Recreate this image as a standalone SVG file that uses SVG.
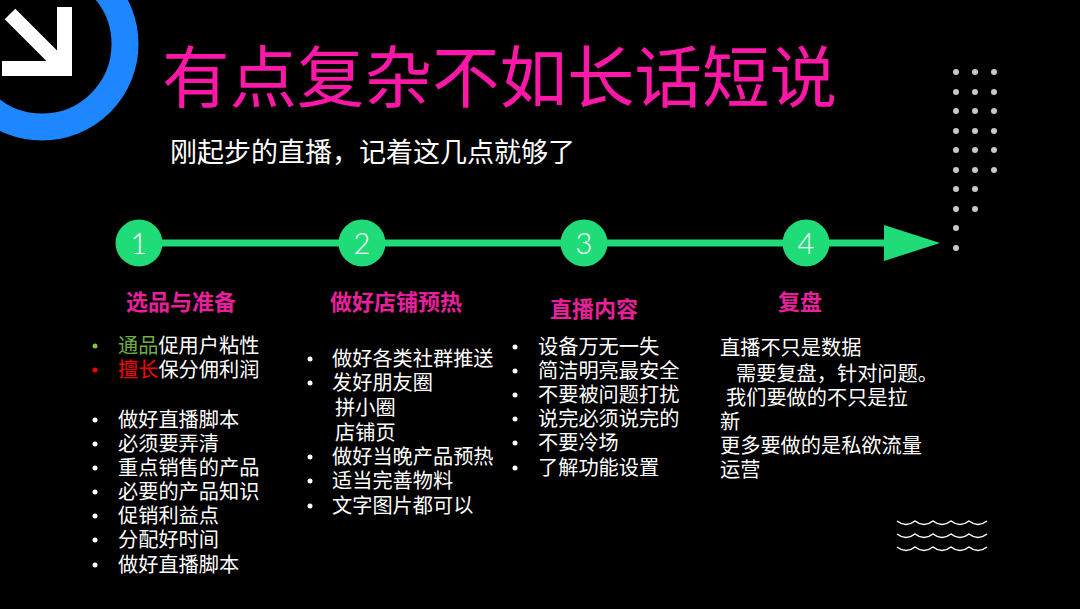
<svg xmlns="http://www.w3.org/2000/svg" width="1080" height="609" viewBox="0 0 1080 609">
<defs>
<style>
text{font-family:"Liberation Sans","Noto Sans CJK SC",sans-serif;}
.t{fill:#ffffff;font-size:20.2px;}
.h{fill:#e8209c;font-size:22px;font-weight:bold;text-anchor:middle;}
.num{fill:#ffffff;font-family:Lato,"Liberation Sans",sans-serif;font-weight:300;font-size:29px;text-anchor:middle;}
.node circle{fill:#1fdb78;}
.dot{fill:#c8c8c8;}
.wave{fill:none;stroke:#ffffff;stroke-width:1.5;}
</style>
</defs>
<rect width="1080" height="609" fill="#000000"/>
<g id="deco-ring">
<circle cx="42" cy="44" r="83" fill="none" stroke="#1e86ff" stroke-width="27"/>
<path d="M10 14 L62 66" stroke="#ffffff" stroke-width="15" fill="none"/>
<polygon points="57,7 72,7 72,76 2,76 2,61 57,61" fill="#ffffff"/>
</g>
<g id="title">
<text x="162" y="102" style="font-size:67.5px;fill:#ff17a8;">有点复杂不如长话短说</text>
<text x="170" y="162" style="font-size:27px;fill:#ffffff;">刚起步的直播，记着这几点就够了</text>
</g>
<g id="dots">
<circle class="dot" cx="956" cy="72" r="3"/><circle class="dot" cx="975" cy="72" r="3"/><circle class="dot" cx="994" cy="72" r="3"/>
<circle class="dot" cx="956" cy="92" r="3"/><circle class="dot" cx="975" cy="92" r="3"/><circle class="dot" cx="994" cy="92" r="3"/>
<circle class="dot" cx="956" cy="111" r="3"/><circle class="dot" cx="975" cy="111" r="3"/><circle class="dot" cx="994" cy="111" r="3"/>
<circle class="dot" cx="956" cy="131" r="3"/><circle class="dot" cx="975" cy="131" r="3"/><circle class="dot" cx="994" cy="131" r="3"/>
<circle class="dot" cx="956" cy="150" r="3"/><circle class="dot" cx="975" cy="150" r="3"/><circle class="dot" cx="994" cy="150" r="3"/>
<circle class="dot" cx="956" cy="170" r="3"/><circle class="dot" cx="975" cy="170" r="3"/><circle class="dot" cx="994" cy="170" r="3"/>
<circle class="dot" cx="956" cy="189" r="3"/><circle class="dot" cx="975" cy="189" r="3"/>
<circle class="dot" cx="956" cy="209" r="3"/><circle class="dot" cx="975" cy="209" r="3"/>
<circle class="dot" cx="956" cy="228" r="3"/>
<circle class="dot" cx="956" cy="248" r="3"/>
</g>
<g id="connectors">
<line x1="139" y1="243" x2="890" y2="243" stroke="#1fdb78" stroke-width="7"/>
<polygon points="884,225 940,243 884,261" fill="#1fdb78"/>
</g>
<g id="node1" class="node"><circle cx="139" cy="243" r="23.5"/><text class="num" x="139" y="254">1</text></g>
<g id="node2" class="node"><circle cx="362" cy="243" r="23.5"/><text class="num" x="362" y="254">2</text></g>
<g id="node3" class="node"><circle cx="584" cy="243" r="23.5"/><text class="num" x="584" y="254">3</text></g>
<g id="node4" class="node"><circle cx="806" cy="243" r="23.5"/><text class="num" x="806" y="254">4</text></g>
<g id="col1">
<text class="h" x="181" y="310">选品与准备</text>
<circle cx="95" cy="346" r="2.5" fill="#7cc243"/>
<text class="t" x="118" y="353"><tspan fill="#70ad47">通品</tspan>促用户粘性</text>
<circle cx="95" cy="370" r="2.5" fill="#ff0000"/>
<text class="t" x="118" y="377"><tspan fill="#ff0000">擅长</tspan>保分佣利润</text>
<g fill="#ffffff">
<circle cx="95" cy="420" r="2.5"/><circle cx="95" cy="444" r="2.5"/><circle cx="95" cy="468" r="2.5"/><circle cx="95" cy="492" r="2.5"/><circle cx="95" cy="516" r="2.5"/><circle cx="95" cy="540" r="2.5"/><circle cx="95" cy="565" r="2.5"/>
</g>
<text class="t" x="118" y="427">做好直播脚本</text>
<text class="t" x="118" y="451">必须要弄清</text>
<text class="t" x="118" y="475">重点销售的产品</text>
<text class="t" x="118" y="499">必要的产品知识</text>
<text class="t" x="118" y="523">促销利益点</text>
<text class="t" x="118" y="547">分配好时间</text>
<text class="t" x="118" y="572">做好直播脚本</text>
</g>
<g id="col2">
<text class="h" x="396" y="310">做好店铺预热</text>
<g fill="#ffffff">
<circle cx="310" cy="359" r="2.5"/><circle cx="310" cy="383" r="2.5"/><circle cx="310" cy="457" r="2.5"/><circle cx="310" cy="481" r="2.5"/><circle cx="310" cy="506" r="2.5"/>
</g>
<text class="t" x="332" y="366">做好各类社群推送</text>
<text class="t" x="332" y="390">发好朋友圈</text>
<text class="t" x="335" y="415">拼小圈</text>
<text class="t" x="335" y="440">店铺页</text>
<text class="t" x="332" y="464">做好当晚产品预热</text>
<text class="t" x="332" y="488">适当完善物料</text>
<text class="t" x="332" y="513">文字图片都可以</text>
</g>
<g id="col3">
<text class="h" x="594" y="317">直播内容</text>
<g fill="#ffffff">
<circle cx="515" cy="347" r="2.5"/><circle cx="515" cy="371" r="2.5"/><circle cx="515" cy="395" r="2.5"/><circle cx="515" cy="419" r="2.5"/><circle cx="515" cy="443" r="2.5"/><circle cx="515" cy="468" r="2.5"/>
</g>
<text class="t" x="538" y="354">设备万无一失</text>
<text class="t" x="538" y="378">简洁明亮最安全</text>
<text class="t" x="538" y="402">不要被问题打扰</text>
<text class="t" x="538" y="426">说完必须说完的</text>
<text class="t" x="538" y="450">不要冷场</text>
<text class="t" x="538" y="475">了解功能设置</text>
</g>
<g id="col4">
<text class="h" x="800" y="310">复盘</text>
<text class="t" x="720" y="355">直播不只是数据</text>
<text class="t" x="736" y="381">需要复盘，针对问题。</text>
<text class="t" x="726" y="405">我们要做的不只是拉</text>
<text class="t" x="720" y="429">新</text>
<text class="t" x="720" y="453">更多要做的是私欲流量</text>
<text class="t" x="720" y="477">运营</text>
</g>
<g id="waves">
<path class="wave" d="M897 521 q9 7 18 0 q9 7 18 0 q9 7 18 0 q9 7 18 0 q9 7 18 0"/>
<path class="wave" d="M897 534 q9 7 18 0 q9 7 18 0 q9 7 18 0 q9 7 18 0 q9 7 18 0"/>
<path class="wave" d="M897 547 q9 7 18 0 q9 7 18 0 q9 7 18 0 q9 7 18 0 q9 7 18 0"/>
</g>
</svg>
